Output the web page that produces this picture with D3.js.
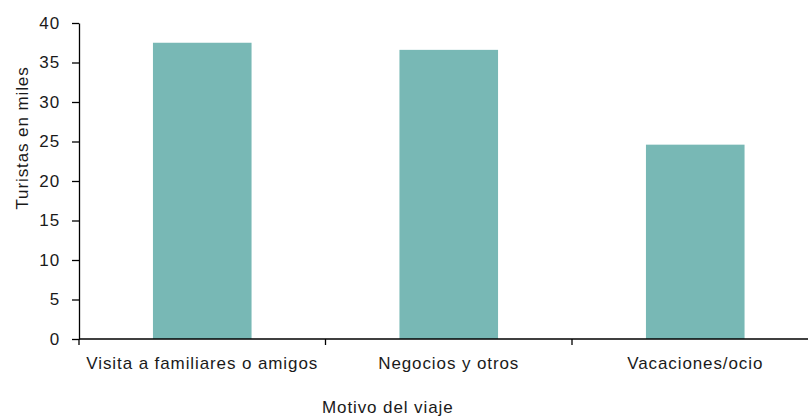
<!DOCTYPE html>
<html>
<head>
<meta charset="utf-8">
<script src="https://cdn.jsdelivr.net/npm/d3@7"></script>
<style>
  body { margin: 0; background: #fff; }
  svg text { font-family: "Liberation Sans", Arial, sans-serif; fill: #1a1a1a; font-size: 17px; letter-spacing: 0.9px; }
  .axis path, .axis line { stroke: #000; stroke-width: 1.3; }
</style>
</head>
<body>
<div id="chart"></div>
<script>
// Data
var categories = ['Visita a familiares o amigos', 'Negocios y otros', 'Vacaciones/ocio'];
var values = [37.5, 36.6, 24.6];
var yTicks = [0, 5, 10, 15, 20, 25, 30, 35, 40];

var W = 808, H = 419;
var margin = {left: 79, top: 23};
var plotH = 316;

var svg = d3.select('#chart')
            .append('svg')
            .attr('width', W)
            .attr('height', H);

var g = svg.append('g')
           .attr('transform', 'translate(' + margin.left + ',' + margin.top + ')');

// scales (x axis runs past the right edge, like the original)
var x = d3.scaleBand()
          .domain(categories)
          .range([0, 739.5])
          .paddingInner(0.6)
          .paddingOuter(0.3);

var y = d3.scaleLinear()
          .domain([0, 40])
          .range([plotH, 0]);

// bars
g.selectAll('.bar')
  .data(values)
  .enter().append('rect')
  .attr('class', 'bar')
  .attr('x', function(d, i) { return x(categories[i]); })
  .attr('width', x.bandwidth())
  .attr('y', function(d) { return y(d); })
  .attr('height', function(d) { return plotH - y(d); })
  .attr('fill', '#78b8b5');

// y axis
var y_axis = d3.axisLeft(y)
               .tickValues(yTicks)
               .tickSizeInner(7)
               .tickSizeOuter(0)
               .tickPadding(12);

g.append('g')
  .attr('class', 'axis')
  .call(y_axis)
  .selectAll('text')
  .style('font-size', '17px');

// x axis: ticks sit on the band boundaries
var xg = g.append('g')
  .attr('class', 'axis')
  .attr('transform', 'translate(0,' + plotH + ')');

xg.append('line')
  .attr('x1', 0).attr('x2', 739.5)
  .attr('y1', 0).attr('y2', 0);

var step = x.step();
var start = x(categories[0]) - step * x.paddingOuter();
xg.selectAll('.tick')
  .data(d3.range(categories.length + 1))
  .enter().append('line')
  .attr('x1', function(i) { return start + i * step; })
  .attr('x2', function(i) { return start + i * step; })
  .attr('y1', 0)
  .attr('y2', 6);

xg.selectAll('.xlabel')
  .data(categories)
  .enter().append('text')
  .attr('x', function(d) { return x(d) + x.bandwidth() / 2; })
  .attr('y', 30)
  .attr('text-anchor', 'middle')
  .text(function(d) { return d; });

// axis titles
svg.append('text')
   .attr('transform', 'translate(28,138) rotate(-90)')
   .attr('text-anchor', 'middle')
   .text('Turistas  en miles');

svg.append('text')
   .attr('x', 322)
   .attr('y', 413)
   .text('Motivo del viaje');
</script>
</body>
</html>
